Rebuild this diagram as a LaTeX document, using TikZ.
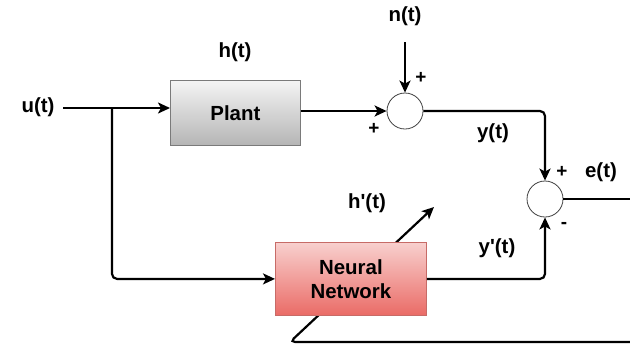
\documentclass[tikz,border=0pt]{standalone}
\usepackage{fontspec}
\setmainfont{Liberation Sans}
\usetikzlibrary{arrows.meta}
\definecolor{plantTop}{HTML}{F4F4F4}
\definecolor{plantBot}{HTML}{B5B5B5}
\definecolor{plantLine}{HTML}{7A7A7A}
\definecolor{nnTop}{HTML}{F8D0CE}
\definecolor{nnBot}{HTML}{EA6B66}
\definecolor{nnLine}{HTML}{C76B67}
\begin{document}
\begin{tikzpicture}[x=1bp,y=-1bp,
  lbl/.style={font=\fontsize{20.5}{23}\selectfont\bfseries, inner sep=0},
  sgn/.style={font=\fontsize{19}{20}\selectfont\bfseries, inner sep=0},
  wire/.style={line width=2.2bp, rounded corners=5bp},
  arr/.style={wire, -{Stealth[length=12bp,width=11bp,inset=3bp]}},
  sumnode/.style={circle, draw=black!75, line width=0.8bp, fill=white, minimum size=36bp, inner sep=0},
  blockbox/.style={anchor=north west, line width=0.8bp, inner sep=0, align=center,
    font=\fontsize{20.5}{24}\selectfont\bfseries},
  ]
\useasboundingbox (0,0) rectangle (630,349);

% feedback line (behind the neural network block)
\coordinate (fbA) at (630,342);
\coordinate (fbB) at (290,342);
\coordinate (fbC) at (434,207);
\draw[arr] (fbA) -- (fbB) -- (fbC);

% blocks
\node[blockbox, draw=plantLine, top color=plantTop, bottom color=plantBot,
      minimum width=130bp, minimum height=65bp] (plant) at (170,80) {Plant};
\node[blockbox, draw=nnLine, top color=nnTop, bottom color=nnBot,
      minimum width=151bp, minimum height=73bp] (nn) at (275,242) {Neural\\Network};
\node[sumnode] (s1) at (405,111) {};
\node[sumnode] (s2) at (545,199) {};

% labels
\node[lbl] (u) at (38,107) {u(t)};
\node[lbl] (h) at (235,52) {h(t)};
\node[lbl] (n) at (405,16) {n(t)};
\node[lbl] (y) at (493,133) {y(t)};
\node[lbl] (e) at (601,172) {e(t)};
\node[lbl] (hp) at (367,203) {h\textquotesingle(t)};
\node[lbl] (yp) at (497,248) {y\textquotesingle(t)};
\node[sgn] (p1) at (421,78) {+};
\node[sgn] (p2) at (374,129) {+};
\node[sgn] (p3) at (562,172) {+};
\node[sgn] (m1) at (564,225) {-};

% coordinates
\coordinate (uin) at (63,108);
\coordinate (br) at (112,108);
\coordinate (nin) at (405,42);
\coordinate (eout) at (630,199);

% connectors
\draw[arr] (uin) -- (uin -| plant.west);
\draw[arr] (br) -- (br |- nn.west) -- (nn.west);
\draw[arr] (plant.east |- s1) -- (s1.west);
\draw[arr] (nin) -- (s1.north);
\draw[arr] (s1.east) -- (s1.east -| s2) -- (s2.north);
\draw[arr] (nn.east) -- (nn.east -| s2) -- (s2.south);
\draw[wire] (s2.east) -- (eout);
\end{tikzpicture}
\end{document}
